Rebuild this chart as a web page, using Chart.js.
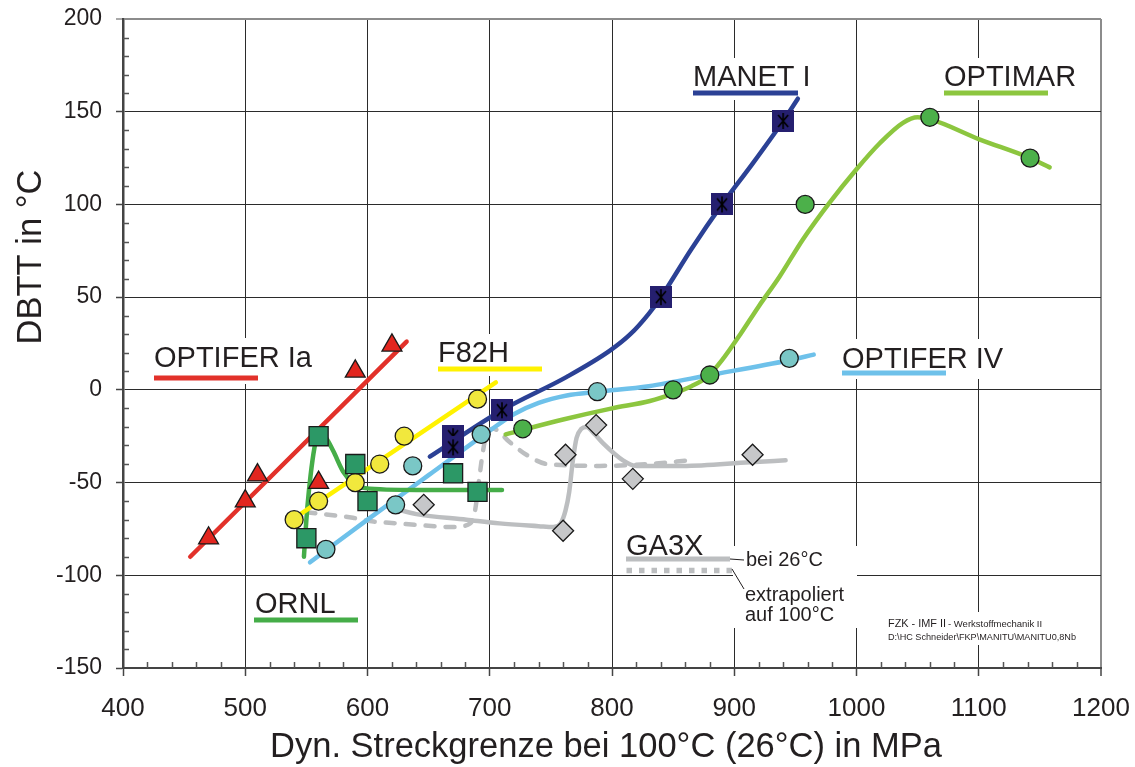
<!DOCTYPE html>
<html>
<head>
<meta charset="utf-8">
<script src="https://cdn.jsdelivr.net/npm/chart.js@4.4.1/dist/chart.umd.min.js"></script>
<style>
  html, body { margin: 0; padding: 0; background: #fff; }
  canvas { display: block; }
</style>
</head>
<body>
<canvas id="dbtt" width="1135" height="767"></canvas>
<script>
const FONT = '"Liberation Sans", Arial, sans-serif';
const INK = '#231f20';

// axis ticks
const xTicks = [400, 500, 600, 700, 800, 900, 1000, 1100, 1200];
const yTicks = [-150, -100, -50, 0, 50, 100, 150, 200];

// OPTIFER Ia
const optiferIaX = [470, 500, 510, 560, 590, 620];
const optiferIaY = [-80, -60, -46, -50, 10, 24];
const optiferIaFitX = [455, 632];
const optiferIaFitY = [-90, 26];

// F82H
const f82hX = [540, 560, 590, 610, 630, 690];
const f82hY = [-70, -60, -50, -40, -25, -5];
const f82hFitX = [543, 705];
const f82hFitY = [-68, 4];

// ORNL
const ornlX = [550, 560, 590, 600, 670, 690];
const ornlY = [-80, -25, -40, -60, -45, -55];
const ornlFitX = [548, 550, 552, 555, 558, 561, 566, 572, 580, 588, 598, 640, 710];
const ornlFitY = [-90, -70, -55, -38, -27, -24, -26, -33, -44, -50, -53, -54, -54];

// OPTIFER IV
const optiferIvX = [566, 623, 637, 693, 788, 945];
const optiferIvY = [-86, -62, -41, -24, -1, 17];
const optiferIvFitX = [553, 600, 650, 700, 720, 740, 763, 788, 830, 880, 945, 965];
const optiferIvFitY = [-93, -70, -46, -22, -13, -7, -3, -1, 2, 8, 16, 19];

// MANET I
const manetX = [670, 670, 710, 840, 890, 940];
const manetY = [-25, -31, -11, 50, 100, 145];
const manetFitX = [651, 710, 763, 798, 815, 830, 840, 865, 890, 915, 940, 952];
const manetFitY = [-36, -11, 7, 21, 30, 41, 50, 76, 100, 122, 145, 157];

// OPTIMAR
const optimarX = [727, 850, 880, 958, 1060, 1142];
const optimarY = [-21, 0, 8, 100, 147, 125];
const optimarFitX = [713, 760, 800, 831, 850, 865, 878, 890, 905, 920, 937, 956, 978, 1000, 1019, 1038, 1050, 1060, 1101, 1142, 1158];
const optimarFitY = [-24, -16, -10, -6, -2, 2, 7, 16, 30, 45, 61, 81, 101, 119, 133, 144, 147, 146, 135, 125, 120];

// GA3X (26°C measured, 100°C extrapolated)
const ga3xX = [646, 760, 762, 787, 817, 915];
const ga3xY = [-62, -76, -35, -19, -48, -35];
const ga3x26X = [622, 640, 681, 708, 740, 752, 758, 762, 765, 768, 771, 775, 779, 786, 793, 809, 820, 858, 913, 942];
const ga3x26Y = [-64, -67, -70, -72, -73.5, -74, -72, -65, -55, -38, -26, -21, -20, -24, -29, -38, -41, -41, -39, -38];
const ga3x100X = [550, 588, 605, 624, 643, 670, 684, 688, 691, 694, 697, 703, 716, 730, 747, 790, 830, 864];
const ga3x100Y = [-66, -69, -71, -72, -73, -74, -72, -65, -50, -35, -25, -21, -28, -35, -40, -41, -40, -38];

const pts = (xs, ys) => xs.map((x, i) => ({ x, y: ys[i] }));

// navy square with asterisk used for MANET I
function manetMarker() {
  const c = document.createElement('canvas');
  c.width = 22; c.height = 22;
  const g = c.getContext('2d');
  g.fillStyle = '#251f6f';
  g.fillRect(0, 0, 22, 22);
  g.strokeStyle = '#000';
  g.lineWidth = 1.6;
  g.beginPath();
  g.moveTo(11, 3); g.lineTo(11, 19);
  g.moveTo(6, 5); g.lineTo(16, 17);
  g.moveTo(16, 5); g.lineTo(6, 17);
  g.stroke();
  return c;
}

function markers(data, style, fill, radius) {
  return {
    data, showLine: false, order: 0,
    pointStyle: style, pointRadius: radius, pointHoverRadius: radius,
    backgroundColor: fill, borderColor: '#1a1a1a', borderWidth: 1.3,
  };
}

function curve(data, color, dash) {
  return {
    data, showLine: true, order: 1, pointRadius: 0, pointHoverRadius: 0,
    borderColor: color, borderWidth: 4.5, borderCapStyle: 'round',
    borderDash: dash || [], cubicInterpolationMode: 'monotone', fill: false,
  };
}

const datasets = [
  markers(pts(manetX, manetY), manetMarker(), '#251f6f', 11),
  markers(pts(optimarX, optimarY), 'circle', '#4cb04a', 9),
  markers(pts(optiferIaX, optiferIaY), 'triangle', '#e2261f', 11.5),
  markers(pts(ornlX, ornlY), 'rect', '#2c9866', 13.5),
  markers(pts(f82hX, f82hY), 'circle', '#f1e83d', 9),
  markers(pts(optiferIvX, optiferIvY), 'circle', '#7ac7c6', 9),
  markers(pts(ga3xX, ga3xY), 'rectRot', '#c6c7c9', 10.5),
  curve(pts(optimarFitX, optimarFitY), '#8cc63f'),
  curve(pts(optiferIaFitX, optiferIaFitY), '#e2312a'),
  curve(pts(manetFitX, manetFitY), '#2b4195'),
  curve(pts(f82hFitX, f82hFitY), '#fff200'),
  curve(pts(ornlFitX, ornlFitY), '#45ad48'),
  curve(pts(optiferIvFitX, optiferIvFitY), '#6ec1ea'),
  curve(pts(ga3x26X, ga3x26Y), '#bcbec0'),
  curve(pts(ga3x100X, ga3x100Y), '#bcbec0', [9, 11]),
];

// material names with coloured keys, drawn on white patches
const tags = [
  { text: 'OPTIFER Ia', x: 154, y: 367, key: [154, 258, 378], color: '#e2312a', box: [150, 338, 172, 46] },
  { text: 'F82H', x: 438, y: 362, key: [438, 542, 369], color: '#fff200', box: [433, 334, 114, 42] },
  { text: 'MANET I', x: 693, y: 86, key: [693, 798, 93], color: '#2b4195', box: [688, 58, 128, 42] },
  { text: 'OPTIMAR', x: 944, y: 86, key: [944, 1048, 93], color: '#8cc63f', box: [939, 58, 146, 42] },
  { text: 'OPTIFER IV', x: 842, y: 368, key: [842, 946, 373], color: '#6ec1ea', box: [837, 339, 175, 40] },
  { text: 'ORNL', x: 255, y: 613, key: [254, 358, 620], color: '#45ad48', box: [250, 584, 112, 42] },
  { text: 'GA3X', x: 626, y: 555, key: [626, 730, 559], color: '#bcbec0', box: [622, 527, 112, 38] },
];

const annotations = {
  id: 'annotations',
  beforeDatasetsDraw(chart) {
    const { ctx } = chart;
    ctx.save();
    ctx.fillStyle = '#fff';
    tags.forEach(t => ctx.fillRect(...t.box));
    ctx.fillRect(733, 546, 124, 82);
    ctx.fillRect(884, 612, 196, 33);

    // minor ticks on the inside of the axes
    const { x, y } = chart.scales;
    const area = chart.chartArea;
    ctx.strokeStyle = '#555';
    ctx.lineWidth = 1.5;
    ctx.beginPath();
    for (let v = -150; v <= 200; v += 10) {
      if (v % 50 === 0) continue;
      const py = Math.round(y.getPixelForValue(v)) + 0.5;
      ctx.moveTo(area.left, py); ctx.lineTo(area.left + 6, py);
    }
    for (let v = 400; v <= 1200; v += 20) {
      if (v % 100 === 0) continue;
      const px = Math.round(x.getPixelForValue(v)) + 0.5;
      ctx.moveTo(px, area.bottom); ctx.lineTo(px, area.bottom - 6);
    }
    ctx.stroke();

    ctx.fillStyle = INK;
    ctx.font = `29px ${FONT}`;
    ctx.textAlign = 'left';
    ctx.textBaseline = 'alphabetic';
    tags.forEach(t => {
      ctx.fillText(t.text, t.x, t.y);
      ctx.strokeStyle = t.color;
      ctx.lineWidth = 5;
      ctx.lineCap = 'butt';
      ctx.beginPath();
      ctx.moveTo(t.key[0], t.key[2]); ctx.lineTo(t.key[1], t.key[2]);
      ctx.stroke();
    });

    // dotted key for the extrapolated GA3X curve
    ctx.strokeStyle = '#bcbec0';
    ctx.lineWidth = 5.5;
    ctx.setLineDash([5.5, 7]);
    ctx.beginPath();
    ctx.moveTo(626.5, 570.5); ctx.lineTo(732, 570.5);
    ctx.stroke();
    ctx.setLineDash([]);

    ctx.strokeStyle = INK;
    ctx.lineWidth = 1;
    ctx.beginPath();
    ctx.moveTo(730, 559); ctx.lineTo(744, 560);
    ctx.moveTo(732, 569); ctx.lineTo(744, 589);
    ctx.stroke();

    ctx.font = `20px ${FONT}`;
    ctx.fillText('bei 26°C', 746, 566);
    ctx.fillText('extrapoliert', 745, 601);
    ctx.fillText('auf 100°C', 745, 621);

    ctx.font = `11px ${FONT}`;
    ctx.fillText('FZK - IMF II', 888, 627, 58);
    ctx.font = `9.5px ${FONT}`;
    ctx.fillText('- Werkstoffmechanik II', 948, 627, 99);
    ctx.fillText('D:\\HC Schneider\\FKP\\MANITU\\MANITU0,8Nb', 888, 640, 188);
    ctx.restore();
  },
  afterDraw(chart) {
    const { ctx } = chart;
    ctx.save();
    ctx.fillStyle = INK;
    ctx.font = `34.5px ${FONT}`;
    ctx.textAlign = 'center';
    ctx.textBaseline = 'alphabetic';
    ctx.fillText('Dyn. Streckgrenze bei 100°C (26°C) in MPa', 606, 757);
    ctx.translate(41, 257);
    ctx.rotate(-Math.PI / 2);
    ctx.fillText('DBTT in °C', 0, 0);
    ctx.restore();
  },
};

new Chart(document.getElementById('dbtt'), {
  type: 'scatter',
  data: { datasets },
  options: {
    responsive: false,
    devicePixelRatio: 1,
    animation: false,
    layout: { padding: { top: 19, right: 34, left: 0, bottom: 0 } },
    plugins: { legend: { display: false }, tooltip: { enabled: false } },
    scales: {
      x: {
        type: 'linear', min: xTicks[0], max: xTicks[xTicks.length - 1],
        afterBuildTicks: s => { s.ticks = xTicks.map(value => ({ value })); },
        afterFit: s => { s.height = 99; s.paddingLeft = 0; s.paddingRight = 0; },
        ticks: { color: INK, font: { family: FONT, size: 26 }, padding: 17, maxRotation: 0, callback: v => String(v) },
        grid: {
          color: c => c.tick && c.tick.value === 1200 ? '#8c8c8c' : '#2b2b2b',
          lineWidth: c => c.tick && c.tick.value === 1200 ? 2 : 1,
          tickLength: 8, tickColor: '#444', tickWidth: 1.5,
        },
        border: { color: '#444', width: 2 },
      },
      y: {
        type: 'linear', min: yTicks[0], max: yTicks[yTicks.length - 1],
        afterBuildTicks: s => { s.ticks = yTicks.map(value => ({ value })); },
        afterFit: s => { s.width = 123; s.paddingTop = 0; s.paddingBottom = 0; },
        ticks: { color: INK, font: { family: FONT, size: 23 }, padding: 14, callback: v => String(v) },
        grid: {
          color: c => c.tick && c.tick.value === 200 ? '#8c8c8c' : '#2b2b2b',
          lineWidth: c => c.tick && c.tick.value === 200 ? 2 : 1,
          tickLength: 7, tickColor: c => c.tick && c.tick.value === 200 ? '#8c8c8c' : '#444', tickWidth: 1.5,
        },
        border: { color: '#444', width: 2.5 },
      },
    },
  },
  plugins: [annotations],
});
</script>
</body>
</html>
